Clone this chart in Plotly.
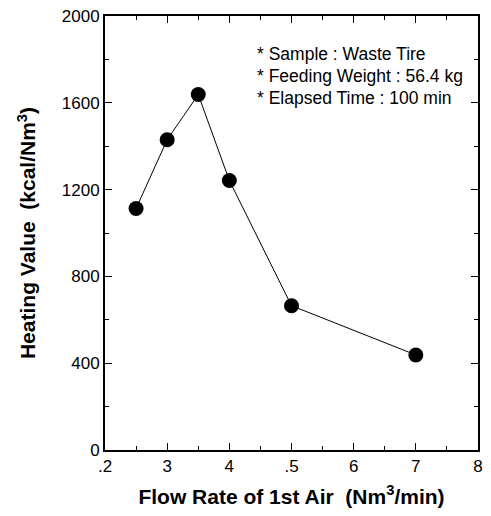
import plotly.graph_objects as go

flow_rate = [2.5, 3.0, 3.5, 4.0, 5.0, 7.0]
heating_value = [1113, 1430, 1638, 1242, 665, 438]
x_tick_vals = [2, 3, 4, 5, 6, 7, 8]
x_tick_text = [".2", "3", "4", ".5", "6", "7", "8"]
y_tick_vals = [0, 400, 800, 1200, 1600, 2000]
notes = ["* Sample : Waste Tire", "* Feeding Weight : 56.4 kg", "* Elapsed Time : 100 min"]
note_y = [0.913, 0.861, 0.811]

fig = go.Figure()
fig.add_trace(go.Scatter(
    x=flow_rate, y=heating_value, mode="lines+markers",
    line=dict(color="black", width=1),
    marker=dict(color="black", size=15),
    showlegend=False))

font = "Liberation Sans, Arial, sans-serif"
fig.update_layout(
    width=475, height=500,
    margin=dict(l=97, r=5, t=8, b=58),
    plot_bgcolor="white", paper_bgcolor="white",
    font=dict(family=font, color="black", size=17),
    xaxis=dict(range=[2, 8], tickvals=x_tick_vals, ticktext=x_tick_text,
               ticks="inside", ticklen=7, tickwidth=1, tickcolor="black",
               minor=dict(dtick=0.5, ticks="inside", ticklen=4, tickcolor="black"),
               showline=True, linecolor="black", linewidth=2, mirror="allticks",
               showgrid=False, zeroline=False, automargin=False,
               ticklabeloverflow="allow",
               title=dict(text="<b>Flow Rate of 1st Air  (Nm<sup>3</sup>/min)</b>",
                          font=dict(size=21), standoff=16)),
    yaxis=dict(range=[0, 2000], tickvals=y_tick_vals,
               ticks="inside", ticklen=7, tickwidth=1, tickcolor="black",
               minor=dict(dtick=200, ticks="inside", ticklen=4, tickcolor="black"),
               showline=True, linecolor="black", linewidth=2, mirror="allticks",
               showgrid=False, zeroline=False, automargin=False,
               ticklabeloverflow="allow",
               title=dict(text="<b>Heating Value  (kcal/Nm<sup>3</sup>)</b>",
                          font=dict(size=21), standoff=20)),
)
for line, yy in zip(notes, note_y):
    fig.add_annotation(text=line, xref="paper", yref="paper",
                       x=0.402, y=yy, xanchor="left", yanchor="middle",
                       align="left", showarrow=False,
                       font=dict(size=17.5, family=font))
fig.write_html("out.html")
